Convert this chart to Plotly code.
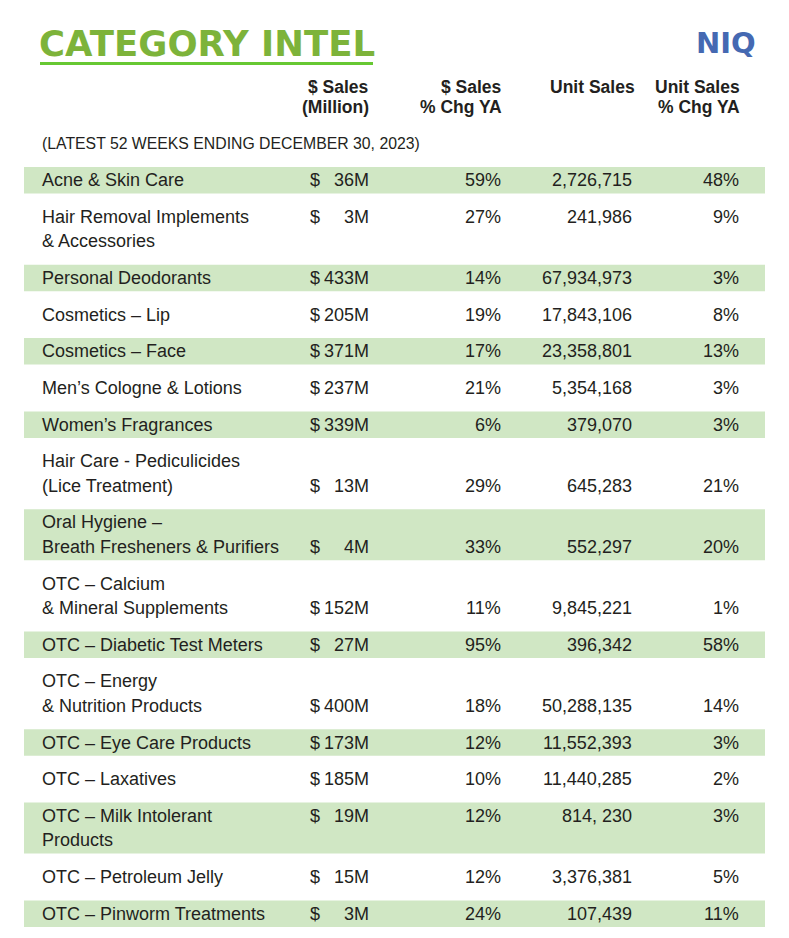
import plotly.graph_objects as go

# ---------------- data ----------------
categories = [
    "Acne & Skin Care",
    "Hair Removal Implements\n& Accessories",
    "Personal Deodorants",
    "Cosmetics – Lip",
    "Cosmetics – Face",
    "Men’s Cologne & Lotions",
    "Women’s Fragrances",
    "Hair Care - Pediculicides\n(Lice Treatment)",
    "Oral Hygiene –\nBreath Fresheners & Purifiers",
    "OTC – Calcium\n& Mineral Supplements",
    "OTC – Diabetic Test Meters",
    "OTC – Energy\n& Nutrition Products",
    "OTC – Eye Care Products",
    "OTC – Laxatives",
    "OTC – Milk Intolerant\nProducts",
    "OTC – Petroleum Jelly",
    "OTC – Pinworm Treatments",
]
sales_million = [36, 3, 433, 205, 371, 237, 339, 13, 4, 152, 27, 400, 173, 185, 19, 15, 3]
sales_pct_chg = [59, 27, 14, 19, 17, 21, 6, 29, 33, 11, 95, 18, 12, 10, 12, 12, 24]
unit_sales = ["2,726,715", "241,986", "67,934,973", "17,843,106", "23,358,801",
              "5,354,168", "379,070", "645,283", "552,297", "9,845,221",
              "396,342", "50,288,135", "11,552,393", "11,440,285", "814, 230",
              "3,376,381", "107,439"]
unit_pct_chg = [48, 9, 3, 8, 13, 3, 3, 21, 20, 1, 58, 14, 3, 2, 3, 5, 11]

headers = ["$ Sales\n(Million)", "$ Sales\n% Chg YA", "Unit Sales", "Unit Sales\n% Chg YA"]
title_text = "CATEGORY INTEL"
brand_text = "NIQ"
subtitle_text = "(LATEST 52 WEEKS ENDING DECEMBER 30, 2023)"

# which line of a multi-line label the numbers sit on (layout)
value_line = [0, 0, 0, 0, 0, 0, 0, 1, 1, 1, 0, 1, 0, 0, 0, 0, 0]

# ---------------- layout constants ----------------
W, H = 789, 938
OFF = 8  # default page body margin
TXT = "#231F20"
BAND = "#D0E7C4"
FONT = "Liberation Sans, Arial, Helvetica, sans-serif"
BOLD_FONT = "DejaVu Sans, sans-serif"
FS = 18
LINE_H = 24.5
GREEN_PAD = 2.0
WHITE_PAD = 22.3
TOP = 167.0
X_CAT = 40
X_DOLLAR = 308
X_SALES = 371
X_SCHG = 503
X_UNITS = 634
X_UCHG = 741
BAND_X0, BAND_X1 = 24, 765

shapes = []
annotations = []


def ann(x, y, text, xanchor="left", size=FS, color=TXT, family=FONT):
    annotations.append(dict(
        x=x, y=y, xref="x", yref="y", text=text, showarrow=False,
        xanchor=xanchor, yanchor="middle",
        font=dict(family=family, size=size, color=color),
    ))


# title + rule
ann(37, 43, f"<b>{title_text}</b>", size=35.5, color="#7DB33A", family=BOLD_FONT)
shapes.append(dict(type="line", xref="x", yref="y", x0=40, x1=373, y0=63.5, y1=63.5,
                   line=dict(color="#67C832", width=3)))
ann(758, 43, f"<b>{brand_text}</b>", xanchor="right", size=29, color="#4569B2", family=BOLD_FONT)

# header
hx = [X_SALES, X_SCHG + 1, X_UNITS + 3, X_UCHG + 1]
for xh, htxt in zip(hx, headers):
    for i, line in enumerate(htxt.split("\n")):
        ann(xh, 87 + 20 * i, f"<b>{line}</b>", xanchor="right", size=17.5)

ann(X_CAT, 143, subtitle_text, size=15.8)

# rows
y = TOP
for r, cat in enumerate(categories):
    lines = cat.split("\n")
    n = len(lines)
    green = (r % 2 == 0)
    pad = GREEN_PAD if green else WHITE_PAD
    h = LINE_H * n + pad
    if green:
        shapes.append(dict(type="rect", xref="x", yref="y", x0=BAND_X0, x1=BAND_X1,
                           y0=y, y1=y + h, fillcolor=BAND, line=dict(width=0), layer="below"))
    y_first = y + pad / 2 + LINE_H / 2
    for i, line in enumerate(lines):
        ann(X_CAT, y_first + i * LINE_H, line)
    yv = y_first + value_line[r] * LINE_H
    ann(X_DOLLAR, yv, "$")
    ann(X_SALES, yv, f"{sales_million[r]}M", xanchor="right")
    ann(X_SCHG, yv, f"{sales_pct_chg[r]}%", xanchor="right")
    ann(X_UNITS, yv, unit_sales[r], xanchor="right")
    ann(X_UCHG, yv, f"{unit_pct_chg[r]}%", xanchor="right")
    y += h

fig = go.Figure()
fig.update_layout(
    width=W - OFF, height=H - OFF,
    margin=dict(l=0, r=0, t=0, b=0),
    paper_bgcolor="white", plot_bgcolor="white",
    xaxis=dict(range=[OFF, W], visible=False, fixedrange=True),
    yaxis=dict(range=[H, OFF], visible=False, fixedrange=True),
    shapes=shapes, annotations=annotations, showlegend=False,
)
fig.write_html("out.html")
